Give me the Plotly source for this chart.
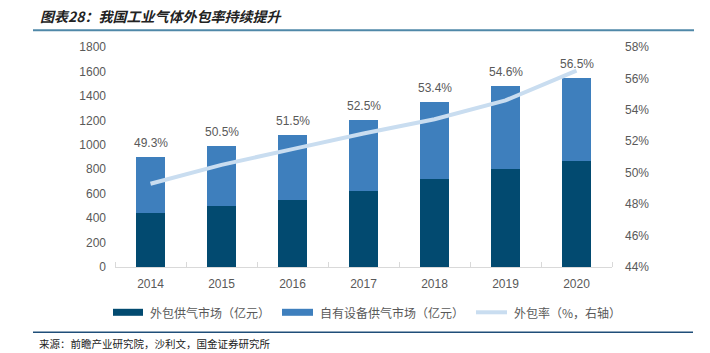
import plotly.graph_objects as go

years = ["2014", "2015", "2016", "2017", "2018", "2019", "2020"]
outsourced = [443, 500, 550, 618, 718, 798, 866]
total = [903, 993, 1083, 1200, 1350, 1478, 1547]
own = [t - o for t, o in zip(total, outsourced)]
rate = [0.493, 0.505, 0.515, 0.525, 0.534, 0.546, 0.565]
rate_labels = ["49.3%", "50.5%", "51.5%", "52.5%", "53.4%", "54.6%", "56.5%"]
left_ticks = [0, 200, 400, 600, 800, 1000, 1200, 1400, 1600, 1800]
right_ticks = [0.44, 0.46, 0.48, 0.50, 0.52, 0.54, 0.56, 0.58]
legend_names = ["外包供气市场（亿元）", "自有设备供气市场（亿元）", "外包率（%，右轴）"]
title_text = "图表28：我国工业气体外包率持续提升"
source_text = "来源：前瞻产业研究院，沙利文，国金证券研究所"

C_DARK = "#024a70"
C_MID = "#3e7fbd"
C_LINE = "#c9ddf0"
GRAY = "#595959"

W, H = 710, 353
L, R, T, B = 115, 612, 46.7, 266.7

xs = list(range(len(years)))
bounds = [i - 0.5 for i in range(len(years) + 1)]


def px(x):
    return (x - L) / (R - L)


def py(y):
    return (B - y) / (B - T)


fig = go.Figure()
fig.add_trace(go.Bar(x=xs, y=outsourced, marker_color=C_DARK, marker_line_width=0,
                     width=0.41, name=legend_names[0], showlegend=False))
fig.add_trace(go.Bar(x=xs, y=own, marker_color=C_MID, marker_line_width=0,
                     width=0.41, name=legend_names[1], showlegend=False))
fig.add_trace(go.Scatter(x=xs, y=rate, yaxis="y2", mode="lines",
                         line=dict(color=C_LINE, width=4), name=legend_names[2],
                         showlegend=False))

annotations = []
for xv, t, lab in zip(xs, total, rate_labels):
    annotations.append(dict(x=xv, y=t, xref="x", yref="y", text=lab, showarrow=False,
                            yanchor="bottom", yshift=5,
                            font=dict(family="Liberation Sans, Arial", size=12, color=GRAY)))

# title and source
annotations.append(dict(x=px(38), y=py(16), xref="paper", yref="paper", text="<b><i>" + title_text + "</i></b>",
                        showarrow=False, xanchor="left", yanchor="middle",
                        font=dict(family="Noto Sans CJK SC", size=14, color="#222222")))
annotations.append(dict(x=px(37), y=py(343), xref="paper", yref="paper", text=source_text,
                        showarrow=False, xanchor="left", yanchor="middle",
                        font=dict(family="Noto Sans CJK SC", size=10.5, color="#222222")))

shapes = [
    dict(type="line", xref="paper", yref="paper", x0=px(33), x1=px(694), y0=py(30), y1=py(30),
         line=dict(color="#4f88a8", width=2)),
    dict(type="line", xref="paper", yref="paper", x0=px(33), x1=px(693), y0=py(332), y1=py(332),
         line=dict(color="#1f4e79", width=1.5)),
]

# manual legend
leg_y = 312
leg_items = [(113, 143, C_DARK, "bar", 148), (282, 313, C_MID, "bar", 318), (476, 507, C_LINE, "line", 512)]
for (x0, x1, col, kind, tx), name in zip(leg_items, legend_names):
    if kind == "bar":
        shapes.append(dict(type="rect", xref="paper", yref="paper", x0=px(x0), x1=px(x1),
                           y0=py(leg_y + 3.5), y1=py(leg_y - 3.5), fillcolor=col, line_width=0))
    else:
        shapes.append(dict(type="line", xref="paper", yref="paper", x0=px(x0), x1=px(x1),
                           y0=py(leg_y), y1=py(leg_y), line=dict(color=col, width=4)))
    annotations.append(dict(x=px(tx), y=py(leg_y), xref="paper", yref="paper", text=name,
                            showarrow=False, xanchor="left", yanchor="middle",
                            font=dict(family="Noto Sans CJK SC", size=12, color=GRAY)))

fig.update_layout(
    width=W, height=H, autosize=False,
    margin=dict(l=L, r=W - R, t=T, b=H - B, pad=0),
    paper_bgcolor="white", plot_bgcolor="white",
    barmode="stack",
    font=dict(family="Liberation Sans, Arial", size=12, color=GRAY),
    xaxis=dict(range=[-0.5, 6.5], tickvals=xs, ticktext=years, showline=True,
               linecolor="#d9d9d9", linewidth=1, ticks="", showgrid=False, zeroline=False,
               ticklabelstandoff=6, tickfont=dict(size=12, color=GRAY),
               minor=dict(tickvals=bounds, ticks="inside", ticklen=5, tickcolor="#d9d9d9",
                          showgrid=False)),
    yaxis=dict(range=[0, 1800], tickvals=left_ticks, showgrid=False, zeroline=False,
               showline=False, ticklabelstandoff=8, tickfont=dict(size=12, color=GRAY)),
    yaxis2=dict(range=[0.44, 0.58], tickvals=right_ticks, tickformat=".0%", overlaying="y",
                side="right", showgrid=False, zeroline=False, showline=False,
                ticklabelstandoff=12, tickfont=dict(size=12, color=GRAY)),
    showlegend=False,
    annotations=annotations,
    shapes=shapes,
)

fig.write_html("out.html")
